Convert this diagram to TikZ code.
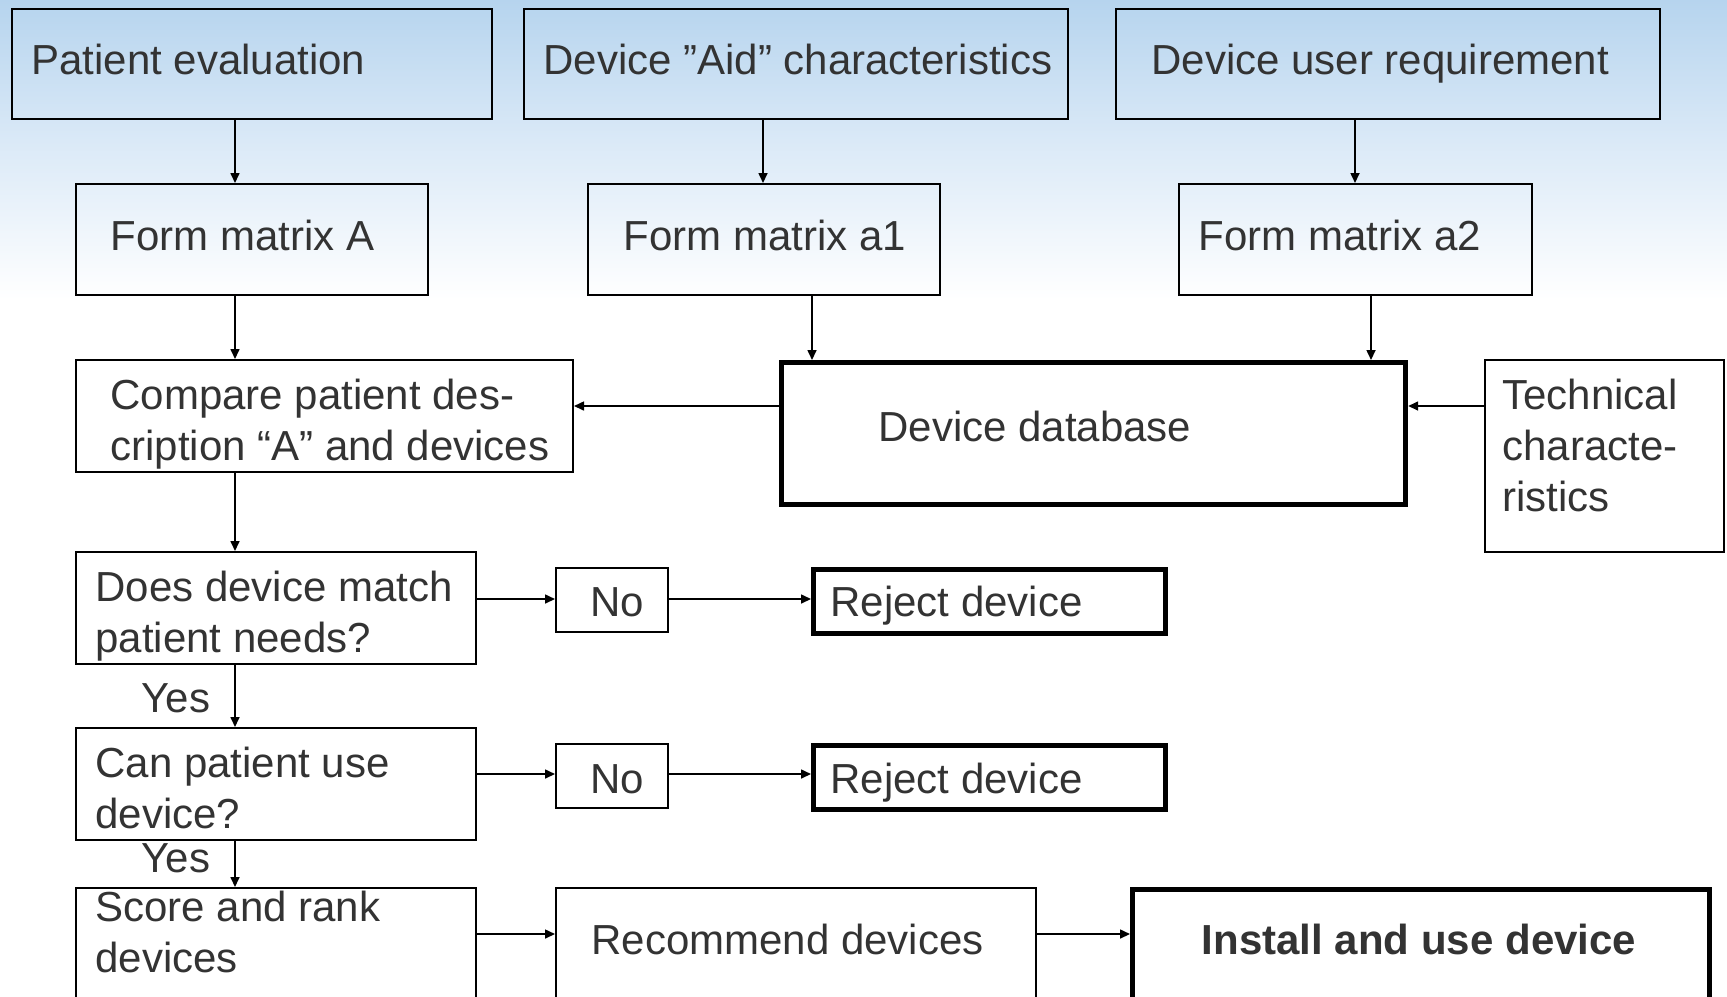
\documentclass[tikz,border=0pt]{standalone}
\usepackage{fontspec}
\setmainfont{Liberation Sans}
\usetikzlibrary{arrows.meta}
\definecolor{txtc}{HTML}{333333}
\definecolor{bgtop}{RGB}{182,212,238}
\definecolor{bgmid}{RGB}{218,233,247}
\begin{document}
\begin{tikzpicture}[x=0.5pt,y=-0.5pt,
  bx/.style={draw=black, line width=1pt, inner sep=0pt, anchor=north west},
  bxthick/.style={bx, line width=2.6pt},
  lbl/.style={text=txtc, font=\fontsize{21}{25.5}\selectfont, inner sep=0pt, anchor=base west, align=left},
  arr/.style={-{Triangle[length=5pt,width=4.5pt]}, line width=0.8pt, draw=black}]
\useasboundingbox (0,0) rectangle (1727,996);
\clip (0,0) rectangle (1727,996);
\fill[white] (0,0) rectangle (1727,996);
\shade[top color=bgtop, bottom color=bgmid] (0,0) rectangle (1727,140);
\shade[top color=bgmid, bottom color=white] (0,140) rectangle (1727,300);

% boxes
\node[bx, minimum width=240pt, minimum height=55pt] (pe) at (11,8) {};
\node[bx, minimum width=272pt, minimum height=55pt] (da) at (523,8) {};
\node[bx, minimum width=272pt, minimum height=55pt] (ur) at (1115,8) {};
\node[bx, minimum width=176pt, minimum height=55.5pt] (fa) at (75,183) {};
\node[bx, minimum width=176pt, minimum height=55.5pt] (fa1) at (587,183) {};
\node[bx, minimum width=176.5pt, minimum height=55.5pt] (fa2) at (1178,183) {};
\node[bx, minimum width=248.5pt, minimum height=56pt] (cmp) at (75,359) {};
\node[bxthick, minimum width=312pt, minimum height=71pt] (db) at (779,360) {};
\node[bx, minimum width=119.5pt, minimum height=96pt] (tc) at (1484,359) {};
\node[bx, minimum width=200pt, minimum height=56pt] (does) at (75,551) {};
\node[bx, minimum width=56pt, minimum height=32pt] (no1) at (555,567) {};
\node[bxthick, minimum width=176pt, minimum height=32pt] (rej1) at (811,567) {};
\node[bx, minimum width=200pt, minimum height=56pt] (can) at (75,727) {};
\node[bx, minimum width=56pt, minimum height=32pt] (no2) at (555,743) {};
\node[bxthick, minimum width=176pt, minimum height=32pt] (rej2) at (811,743) {};
\node[bx, minimum width=200pt, minimum height=70pt] (score) at (75,887) {};
\node[bx, minimum width=240pt, minimum height=70pt] (rec) at (555,887) {};
\node[bxthick, minimum width=288.5pt, minimum height=70pt] (inst) at (1130,887) {};

% texts
\node[lbl] (tpe) at (31,74) {Patient evaluation};
\node[lbl] (tda) at (543,74) {Device ”Aid” characteristics};
\node[lbl] (tur) at (1151,74) {Device user requirement};
\node[lbl] (tfa) at (110,250) {Form matrix A};
\node[lbl] (tfa1) at (623,250) {Form matrix a1};
\node[lbl] (tfa2) at (1198,250) {Form matrix a2};
\node[lbl] (tcmp) at (110,460) {Compare patient des-\\cription “A” and devices};
\node[lbl] (tdb) at (878,441) {Device database};
\node[lbl] (ttc) at (1502,511) {Technical\\characte-\\ristics};
\node[lbl] (tdoes) at (95,652) {Does device match\\patient needs?};
\node[lbl, anchor=base] (tno1) at (617,616) {No};
\node[lbl] (trej1) at (830,616) {Reject device};
\node[lbl] (tcan) at (95,828) {Can patient use\\device?};
\node[lbl, anchor=base] (tno2) at (617,793) {No};
\node[lbl] (trej2) at (830,793) {Reject device};
\node[lbl] (tscore) at (95,972) {Score and rank\\devices};
\node[lbl] (trec) at (591,954) {Recommend devices};
\node[lbl, anchor=base, font=\fontsize{21}{25.5}\selectfont\bfseries] (tinst) at (1419,954) {Install and use device};
\node[lbl, anchor=base] (yes1) at (176,712) {Yes};
\node[lbl, anchor=base] (yes2) at (176,872) {Yes};

% connector helper coordinates
\coordinate (xa) at (235,0);
\coordinate (xb) at (763,0);
\coordinate (xc) at (1355,0);
\coordinate (xd) at (812,0);
\coordinate (xe) at (1371,0);
\coordinate (ya) at (0,406);
\coordinate (yb) at (0,599);
\coordinate (yc) at (0,774);
\coordinate (yd) at (0,934);

% connectors
\draw[arr] (pe.south -| xa) -- (fa.north -| xa);
\draw[arr] (da.south -| xb) -- (fa1.north -| xb);
\draw[arr] (ur.south -| xc) -- (fa2.north -| xc);
\draw[arr] (fa.south -| xa) -- (cmp.north -| xa);
\draw[arr] (fa1.south -| xd) -- (db.north -| xd);
\draw[arr] (fa2.south -| xe) -- (db.north -| xe);
\draw[arr] (db.west |- ya) -- (cmp.east |- ya);
\draw[arr] (tc.west |- ya) -- (db.east |- ya);
\draw[arr] (cmp.south -| xa) -- (does.north -| xa);
\draw[arr] (does.east |- yb) -- (no1.west |- yb);
\draw[arr] (no1.east |- yb) -- (rej1.west |- yb);
\draw[arr] (does.south -| xa) -- (can.north -| xa);
\draw[arr] (can.east |- yc) -- (no2.west |- yc);
\draw[arr] (no2.east |- yc) -- (rej2.west |- yc);
\draw[arr] (can.south -| xa) -- (score.north -| xa);
\draw[arr] (score.east |- yd) -- (rec.west |- yd);
\draw[arr] (rec.east |- yd) -- (inst.west |- yd);
\end{tikzpicture}
\end{document}
